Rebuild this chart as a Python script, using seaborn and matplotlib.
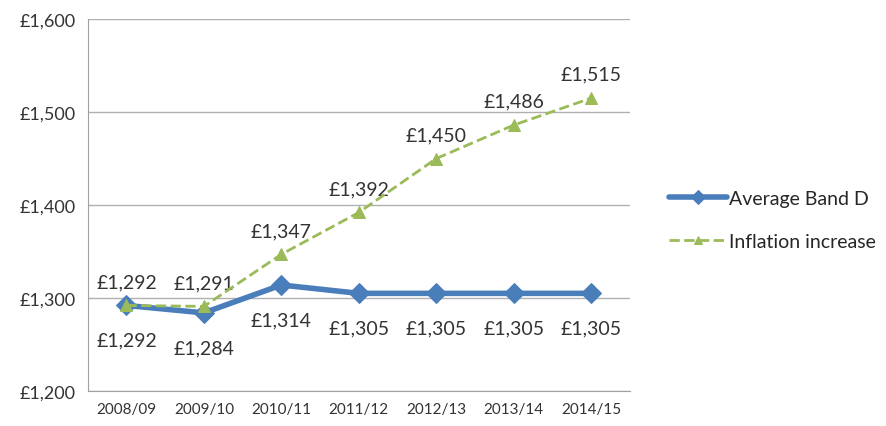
import pandas as pd
import matplotlib
matplotlib.use("Agg")
import matplotlib.pyplot as plt
import seaborn as sns
from matplotlib.ticker import FuncFormatter, FixedLocator

years = ["2008/09", "2009/10", "2010/11", "2011/12", "2012/13", "2013/14", "2014/15"]
band_d = [1292, 1284, 1314, 1305, 1305, 1305, 1305]
inflation = [1292, 1291, 1347, 1392, 1450, 1486, 1515]

BLUE = "#4A7EBB"
GREEN = "#9BBB59"

sns.set_style("white")
plt.rcParams["font.family"] = ["Lato", "DejaVu Sans"]

df = pd.DataFrame({"year": years, "pos": range(len(years)),
                   "Average Band D": band_d, "Inflation increase": inflation})

fig = plt.figure(figsize=(8.86, 4.27), dpi=100)
ax = fig.add_axes([0.099, 0.082, 0.612, 0.871])

sns.lineplot(data=df, x="pos", y="Average Band D", ax=ax, color=BLUE,
             linewidth=4, marker="D", markersize=10, markeredgecolor=BLUE,
             label="Average Band D", zorder=3)
sns.lineplot(data=df, x="pos", y="Inflation increase", ax=ax, color=GREEN,
             linewidth=2, linestyle="--", marker="^", markersize=8,
             markeredgecolor=GREEN, label="Inflation increase", zorder=4)

# labels: inflation above, band D below
for i, v in enumerate(inflation):
    ax.annotate(f"£{v:,}", (i, v), textcoords="offset points", xytext=(0, 11),
                ha="center", va="bottom", fontsize=14, color="#333333")
for i, v in enumerate(band_d):
    ax.annotate(f"£{v:,}", (i, v), textcoords="offset points", xytext=(0, -19),
                ha="center", va="top", fontsize=14, color="#333333")

ax.set_xlim(-0.5, len(years) - 0.5)
ax.set_ylim(1200, 1600)
ax.set_yticks(range(1200, 1601, 100))
ax.yaxis.set_major_formatter(FuncFormatter(lambda v, p: f"£{v:,.0f}"))
ax.set_xticks(range(len(years)))
ax.set_xticklabels(years, fontsize=11, color="#333333")
ax.xaxis.set_minor_locator(FixedLocator([i - 0.5 for i in range(len(years) + 1)]))
ax.tick_params(axis="x", which="major", length=0, pad=8)
ax.tick_params(axis="x", which="minor", length=5, color="#A0A0A0", direction="out")
ax.tick_params(axis="y", length=5, color="#A0A0A0", labelsize=13, labelcolor="#333333")
ax.set_xlabel("")
ax.set_ylabel("")

ax.grid(axis="y", color="#B0B0B0", linewidth=1)
ax.set_axisbelow(True)
for s in ["top", "right"]:
    ax.spines[s].set_visible(False)
for s in ["left", "bottom"]:
    ax.spines[s].set_color("#A0A0A0")

ax.legend(loc="center left", bbox_to_anchor=(1.04, 0.46), frameon=False,
          fontsize=14, handlelength=3.0, handletextpad=0.1, labelspacing=1.3,
          markerscale=0.7)

plt.savefig("out.png", dpi=100)
